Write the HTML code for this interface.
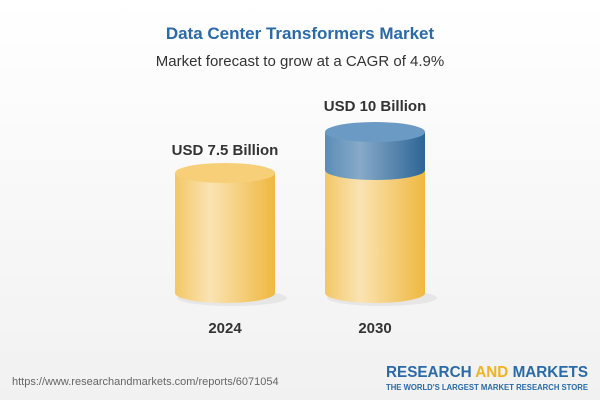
<!DOCTYPE html>
<html><head><style>
body{margin:0;width:600px;height:400px;overflow:hidden;font-family:"Liberation Sans",sans-serif;background:#fff}
</style></head><body>
<svg width="600" height="400" viewBox="0 0 600 400">
<defs>
<linearGradient id="bg" x1="0" y1="0" x2="0" y2="1"><stop offset="0" stop-color="#ffffff"/><stop offset="1" stop-color="#f1f1f1"/></linearGradient>
<linearGradient id="y" x1="0" x2="1"><stop offset="0" stop-color="#f3c766"/><stop offset="0.35" stop-color="#fae3b3"/><stop offset="1" stop-color="#efb83f"/></linearGradient>
<linearGradient id="b" x1="0" x2="1"><stop offset="0" stop-color="#5b8db8"/><stop offset="0.35" stop-color="#87aac8"/><stop offset="1" stop-color="#2d6596"/></linearGradient>
</defs>
<rect x="0" y="0" width="600" height="400" fill="url(#bg)"/>
<text x="300" y="39" text-anchor="middle" font-size="17" font-weight="bold" fill="#2a6aa8">Data Center Transformers Market</text>
<text x="300" y="66" text-anchor="middle" font-size="15" fill="#333">Market forecast to grow at a CAGR of 4.9%</text>
<ellipse cx="232" cy="298" rx="55" ry="8" fill="#e6e6e6"/>
<path d="M175 173 V293 A50 10 0 0 0 275 293 V173 Z" fill="url(#y)"/>
<ellipse cx="225" cy="173" rx="50" ry="10" fill="#f6cf78"/>
<text x="225" y="155" text-anchor="middle" font-size="15" font-weight="bold" fill="#333">USD 7.5 Billion</text>
<ellipse cx="382" cy="298" rx="55" ry="8" fill="#e6e6e6"/>
<path d="M325 170 V293 A50 10 0 0 0 425 293 V170 Z" fill="url(#y)"/>
<path d="M325 132 V170 A50 10 0 0 0 425 170 V132 Z" fill="url(#b)"/>
<ellipse cx="375" cy="132" rx="50" ry="10" fill="#6b9bc4"/>
<text x="375" y="111" text-anchor="middle" font-size="15" font-weight="bold" fill="#333">USD 10 Billion</text>
<text x="225" y="333" text-anchor="middle" font-size="15" font-weight="bold" fill="#333">2024</text>
<text x="375" y="333" text-anchor="middle" font-size="15" font-weight="bold" fill="#333">2030</text>
<text x="12" y="385" font-size="11" fill="#666">https://www.researchandmarkets.com/reports/6071054</text>
<text x="386" y="377" font-size="16" font-weight="bold" fill="#2a6aa8" textLength="202" lengthAdjust="spacingAndGlyphs">RESEARCH <tspan fill="#f0b323">AND</tspan> MARKETS</text>
<text x="386" y="390" font-size="8" font-weight="bold" fill="#2a6aa8" textLength="202" lengthAdjust="spacingAndGlyphs">THE WORLD'S LARGEST MARKET RESEARCH STORE</text>
</svg>
</body></html>
